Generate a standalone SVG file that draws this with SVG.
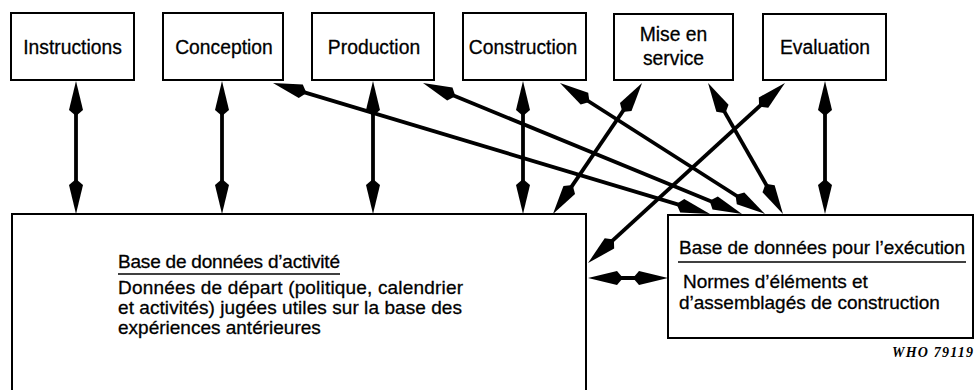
<svg xmlns="http://www.w3.org/2000/svg" width="979" height="390" viewBox="0 0 979 390">
  <style>
    .box { fill: #fff; stroke: #000; stroke-width: 2; }
    .lbl { font-family: "Liberation Sans", Arial, sans-serif; font-size: 19px; fill: #000; stroke: #000; stroke-width: 0.3; }
    .stage { font-size: 21px; text-anchor: middle; }
    .rule { stroke: #000; stroke-width: 1.4; }
    .arrow { stroke: #000; stroke-width: 3.8; fill: none; marker-start: url(#head); marker-end: url(#head); }
    .credit { font-family: "Liberation Serif", "Times New Roman", serif; font-size: 14px; font-style: italic; font-weight: bold; fill: #000; }
  </style>
  <defs>
    <!-- long narrow head; tip sits 12px beyond the end of the shaft -->
    <marker id="head" markerUnits="userSpaceOnUse" orient="auto-start-reverse" refX="0" refY="0" markerWidth="1" markerHeight="1" overflow="visible">
      <path d="M12,0 L-17,-7 L-23,0 L-17,7 Z" fill="#000"/>
    </marker>
  </defs>
  <rect width="979" height="390" fill="#fff"/>

  <!-- stages of the project -->
  <g id="instructions">
    <rect class="box" x="11" y="13" width="123" height="67"/>
    <text class="lbl stage" transform="translate(72.5,54) scale(0.92,1)">Instructions</text>
  </g>
  <g id="conception">
    <rect class="box" x="163" y="13" width="120" height="67"/>
    <text class="lbl stage" transform="translate(224,54) scale(0.92,1)">Conception</text>
  </g>
  <g id="production">
    <rect class="box" x="312" y="13" width="122" height="67"/>
    <text class="lbl stage" transform="translate(374,54) scale(0.92,1)">Production</text>
  </g>
  <g id="construction">
    <rect class="box" x="463" y="13" width="123" height="67"/>
    <text class="lbl stage" transform="translate(523,54) scale(0.92,1)">Construction</text>
  </g>
  <g id="mise-en-service">
    <rect class="box" x="614" y="14" width="119" height="66"/>
    <text class="lbl stage" transform="translate(673.5,41) scale(0.92,1)">Mise en</text>
    <text class="lbl stage" transform="translate(673.5,65) scale(0.92,1)">service</text>
  </g>
  <g id="evaluation">
    <rect class="box" x="763" y="14" width="123" height="66"/>
    <text class="lbl stage" transform="translate(825,54) scale(0.92,1)">Evaluation</text>
  </g>

  <!-- activity database (runs off the bottom edge) -->
  <g id="base-activite">
    <path class="box" d="M12,392 V214 H586 V392"/>
    <text class="lbl" x="118" y="268" textLength="222">Base de données d’activité</text>
    <line class="rule" x1="118" y1="274" x2="340" y2="274"/>
    <text class="lbl" x="118" y="294" textLength="345">Données de départ (politique, calendrier</text>
    <text class="lbl" x="118" y="314" textLength="344">et activités) jugées utiles sur la base des</text>
    <text class="lbl" x="118" y="334">expériences antérieures</text>
  </g>

  <!-- execution database -->
  <g id="base-execution">
    <rect class="box" x="668" y="215" width="305" height="123"/>
    <text class="lbl" x="679" y="254" textLength="286">Base de données pour l’exécution</text>
    <line class="rule" x1="678" y1="262" x2="966" y2="262"/>
    <text class="lbl" x="683" y="288">Normes d’éléments et</text>
    <text class="lbl" x="679" y="309">d’assemblagés de construction</text>
  </g>

  <text class="credit" x="892" y="357" textLength="81">WHO 79119</text>

  <!-- two-way links -->
  <g id="connectors">
    <line class="arrow" x1="76" y1="93" x2="76" y2="202"/>
    <line class="arrow" x1="222" y1="93" x2="222" y2="202"/>
    <line class="arrow" x1="373" y1="93" x2="373" y2="202"/>
    <line class="arrow" x1="523" y1="93" x2="523" y2="202"/>
    <line class="arrow" x1="825" y1="93" x2="825" y2="202"/>
    <line class="arrow" x1="284.5" y1="86.4" x2="698.5" y2="210.6"/>
    <line class="arrow" x1="434.1" y1="87.6" x2="730.9" y2="209.4"/>
    <line class="arrow" x1="570.1" y1="89.5" x2="754.9" y2="207.5"/>
    <line class="arrow" x1="635.3" y1="92.9" x2="559.7" y2="204.1"/>
    <line class="arrow" x1="714" y1="93.4" x2="777" y2="203.6"/>
    <line class="arrow" x1="776.1" y1="91.1" x2="596.9" y2="254.9"/>
    <line class="arrow" x1="600" y1="278" x2="656" y2="278"/>
  </g>
</svg>
